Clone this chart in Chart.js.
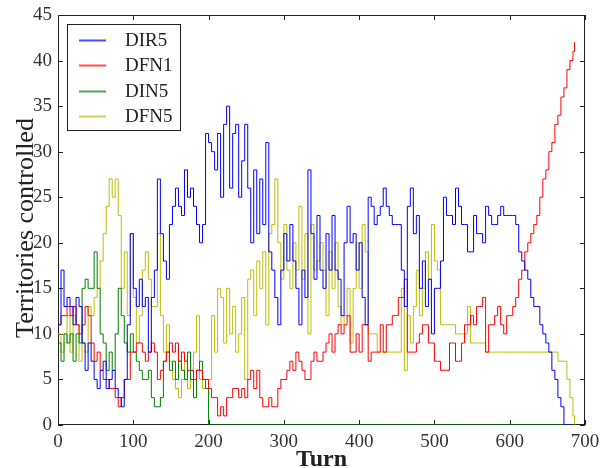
<!DOCTYPE html>
<html>
<head>
<meta charset="utf-8">
<script src="https://cdn.jsdelivr.net/npm/chart.js@4.4.1/dist/chart.umd.min.js"></script>
<style>
body { margin: 0; background: #fff; }
</style>
</head>
<body>
<canvas id="myChart" width="601" height="468"></canvas>
<script>
// turn numbers sampled every 4 turns
var turns = [
  0, 4, 8, 12, 16, 20, 24, 28, 32, 36,
  40, 44, 48, 52, 56, 60, 64, 68, 72, 76,
  80, 84, 88, 92, 96, 100, 104, 108, 112, 116,
  120, 124, 128, 132, 136, 140, 144, 148, 152, 156,
  160, 164, 168, 172, 176, 180, 184, 188, 192, 196,
  200, 204, 208, 212, 216, 220, 224, 228, 232, 236,
  240, 244, 248, 252, 256, 260, 264, 268, 272, 276,
  280, 284, 288, 292, 296, 300, 304, 308, 312, 316,
  320, 324, 328, 332, 336, 340, 344, 348, 352, 356,
  360, 364, 368, 372, 376, 380, 384, 388, 392, 396,
  400, 404, 408, 412, 416, 420, 424, 428, 432, 436,
  440, 444, 448, 452, 456, 460, 464, 468, 472, 476,
  480, 484, 488, 492, 496, 500, 504, 508, 512, 516,
  520, 524, 528, 532, 536, 540, 544, 548, 552, 556,
  560, 564, 568, 572, 576, 580, 584, 588, 592, 596,
  600, 604, 608, 612, 616, 620, 624, 628, 632, 636,
  640, 644, 648, 652, 656, 660, 664, 668, 672, 676,
  680, 684, 686
];

var dir5 = [
  11, 17, 13, 14, 13, 11, 14, 13, 9, 6,
  9, 7, 5, 4, 6, 7, 4, 5, 6, 4,
  3, 2, 5, 11, 21, 15, 13, 16, 13, 14,
  8, 14, 17, 27, 21, 18, 16, 22, 24, 26,
  24, 23, 28, 25, 26, 24, 22, 20, 22, 32,
  31, 30, 28, 32, 25, 33, 35, 26, 32, 33,
  25, 29, 33, 26, 20, 28, 21, 27, 22, 31,
  19, 17, 14, 11, 17, 21, 18, 22, 18, 15,
  11, 17, 14, 28, 21, 16, 23, 17, 15, 21,
  17, 23, 17, 16, 12, 20, 24, 20, 21, 17,
  20, 14, 11, 25, 24, 22, 23, 24, 26, 24,
  23, 22, 22, 22, 17, 13, 24, 26, 21, 23,
  15, 18, 13, 16, 10, 15, 15, 18, 25, 23,
  23, 22, 26, 24, 22, 22, 19, 19, 23, 21,
  21, 20, 24, 23, 22, 22, 23, 24, 23, 23,
  23, 23, 22, 19, 18, 17, 16, 14, 13, 13,
  11, 10, 9, 8, 6, 5, 3, 2, 0, 0,
  0, 0, 0
];

var dfn1 = [
  11, 12, 12, 13, 12, 13, 11, 10, 11, 13,
  12, 9, 7, 8, 6, 5, 5, 4, 4, 3,
  2, 3, 5, 5, 8, 8, 9, 9, 8, 7,
  8, 9, 8, 5, 6, 7, 8, 9, 8, 9,
  7, 8, 7, 6, 6, 5, 6, 6, 5, 5,
  4, 3, 3, 1, 2, 1, 3, 3, 4, 4,
  3, 4, 3, 5, 6, 4, 6, 3, 2, 2,
  3, 2, 2, 4, 5, 5, 6, 7, 6, 8,
  7, 6, 5, 5, 7, 8, 7, 7, 8, 9,
  10, 8, 10, 11, 10, 11, 12, 8, 8, 10,
  8, 11, 11, 7, 8, 8, 8, 11, 8, 11,
  11, 12, 12, 14, 14, 16, 8, 8, 8, 9,
  10, 11, 11, 9, 9, 7, 7, 6, 6, 6,
  9, 9, 7, 7, 9, 11, 11, 12, 11, 13,
  13, 14, 8, 11, 11, 12, 13, 11, 10, 12,
  12, 13, 14, 16, 17, 19, 20, 21, 22, 23,
  25, 27, 28, 30, 31, 33, 34, 36, 37, 39,
  40, 41, 42
];

var din5 = [
  9, 7, 10, 9, 10, 7, 10, 9, 15, 16,
  15, 15, 19, 15, 10, 9, 6, 8, 6, 10,
  15, 12, 9, 8, 10, 8, 7, 6, 5, 5,
  6, 3, 2, 2, 3, 7, 8, 6, 7, 5,
  7, 6, 5, 8, 5, 3, 6, 7, 5, 4,
  0, 0, 0, 0, 0, 0, 0, 0, 0, 0,
  0, 0, 0, 0, 0, 0, 0, 0, 0, 0,
  0, 0, 0, 0, 0, 0, 0, 0, 0, 0,
  0, 0, 0, 0, 0, 0, 0, 0, 0, 0,
  0, 0, 0, 0, 0, 0, 0, 0, 0, 0,
  0, 0, 0, 0, 0, 0, 0, 0, 0, 0,
  0, 0, 0, 0, 0, 0, 0, 0, 0, 0,
  0, 0, 0, 0, 0, 0, 0, 0, 0, 0,
  0, 0, 0, 0, 0, 0, 0, 0, 0, 0,
  0, 0, 0, 0, 0, 0, 0, 0, 0, 0,
  0, 0, 0, 0, 0, 0, 0, 0, 0, 0,
  0, 0, 0, 0, 0, 0, 0, 0, 0, 0,
  0, 0, 0
];

var dfn5 = [
  10, 8, 9, 12, 8, 12, 11, 7, 9, 8,
  13, 12, 14, 15, 18, 21, 24, 27, 25, 27,
  23, 15, 19, 12, 21, 14, 9, 12, 17, 19,
  16, 13, 13, 21, 12, 8, 11, 7, 5, 4,
  3, 5, 7, 4, 6, 8, 12, 5, 4, 4,
  5, 12, 8, 15, 14, 9, 15, 10, 13, 8,
  10, 14, 5, 16, 17, 12, 18, 15, 19, 11,
  21, 22, 27, 20, 16, 22, 17, 15, 20, 17,
  24, 16, 21, 10, 22, 17, 18, 20, 17, 12,
  19, 15, 20, 13, 11, 12, 15, 9, 15, 20,
  15, 22, 19, 10, 10, 10, 8, 8, 8, 8,
  8, 8, 8, 8, 15, 6, 12, 9, 13, 17,
  12, 15, 19, 16, 22, 18, 17, 11, 11, 11,
  11, 11, 10, 10, 10, 10, 13, 9, 9, 9,
  9, 9, 8, 8, 8, 8, 8, 8, 8, 8,
  8, 8, 8, 8, 8, 8, 8, 8, 8, 8,
  8, 8, 8, 8, 8, 8, 7, 7, 7, 5,
  3, 1, 0
];

var xTicks = [0, 100, 200, 300, 400, 500, 600, 700];
var yTicks = [0, 5, 10, 15, 20, 25, 30, 35, 40, 45];

function pts(vals) {
  return turns.map(function (t, i) { return { x: t, y: vals[i] }; });
}

var serif = '"Liberation Serif", "DejaVu Serif", serif';

// frame + inward ticks, like matplotlib
var framePlugin = {
  id: 'frame',
  beforeDatasetsDraw: function (chart) {
    var c = chart.ctx, a = chart.chartArea;
    var xs = chart.scales.x, ys = chart.scales.y;
    c.save();
    c.strokeStyle = '#222';
    c.lineWidth = 1;
    c.strokeRect(a.left + 0.5, a.top + 0.5, a.right - a.left - 1, a.bottom - a.top - 1);
    c.beginPath();
    xTicks.forEach(function (v) {
      var px = Math.round(xs.getPixelForValue(v)) + 0.5;
      c.moveTo(px, a.bottom); c.lineTo(px, a.bottom - 5);
      c.moveTo(px, a.top); c.lineTo(px, a.top + 5);
    });
    yTicks.forEach(function (v) {
      var py = Math.round(ys.getPixelForValue(v)) + 0.5;
      c.moveTo(a.left, py); c.lineTo(a.left + 5, py);
      c.moveTo(a.right, py); c.lineTo(a.right - 5, py);
    });
    c.stroke();
    c.restore();
  },
  afterDraw: function (chart) {
    // axis titles
    var c = chart.ctx, a = chart.chartArea;
    c.save();
    c.fillStyle = '#222';
    c.textAlign = 'center';
    c.textBaseline = 'alphabetic';
    c.font = 'bold 24px ' + serif;
    c.fillText('Turn', (a.left + a.right) / 2, 466);
    c.translate(33, 228);
    c.rotate(-Math.PI / 2);
    c.font = '26px ' + serif;
    c.fillText('Territories controlled', 0, 0);
    c.restore();
  }
};

// legend box in the upper left corner
var legendPlugin = {
  id: 'boxLegend',
  afterDraw: function (chart) {
    var c = chart.ctx;
    c.save();
    c.fillStyle = '#fff';
    c.fillRect(67, 24, 113, 106);
    c.strokeStyle = '#222';
    c.lineWidth = 1;
    c.strokeRect(67.5, 24.5, 113, 106);
    c.font = '19px ' + serif;
    c.textBaseline = 'middle';
    chart.data.datasets.forEach(function (ds, i) {
      var y = 40 + i * 25.3;
      c.strokeStyle = ds.borderColor;
      c.globalAlpha = 0.7;
      c.lineWidth = 2;
      c.beginPath();
      c.moveTo(79, Math.round(y) + 0.5);
      c.lineTo(106, Math.round(y) + 0.5);
      c.stroke();
      c.globalAlpha = 1;
      c.fillStyle = '#222';
      c.fillText(ds.label, 125, y + 1);
    });
    c.restore();
  }
};

window.onload = function () {
  var ctx = document.getElementById('myChart').getContext('2d');

  new Chart(ctx, {
    type: 'line',
    data: {
      datasets: [
        { label: 'DIR5', data: pts(dir5), borderColor: '#0000ff' },
        { label: 'DFN1', data: pts(dfn1), borderColor: '#ff0000' },
        { label: 'DIN5', data: pts(din5), borderColor: '#008000' },
        { label: 'DFN5', data: pts(dfn5), borderColor: '#bfbf00' }
      ]
    },
    options: {
      responsive: false,
      animation: false,
      layout: { padding: { top: 15, right: 16, left: 0, bottom: 0 } },
      elements: {
        point: { radius: 0 },
        line: { borderWidth: 1, tension: 0, fill: false, stepped: true }
      },
      plugins: {
        legend: { display: false },
        tooltip: { enabled: false }
      },
      scales: {
        x: {
          type: 'linear',
          min: 0,
          max: 700,
          afterFit: function (s) { s.height = 43; s.paddingLeft = 0; s.paddingRight = 0; },
          afterBuildTicks: function (s) { s.ticks = xTicks.map(function (v) { return { value: v }; }); },
          grid: { display: false, drawTicks: false },
          border: { display: false },
          ticks: { padding: 6, color: '#333', font: { family: serif, size: 19 } },
          title: { display: false }
        },
        y: {
          min: 0,
          max: 45,
          afterFit: function (s) { s.width = 58; s.paddingTop = 0; s.paddingBottom = 0; },
          afterBuildTicks: function (s) { s.ticks = yTicks.map(function (v) { return { value: v }; }); },
          grid: { display: false, drawTicks: false },
          border: { display: false },
          ticks: { padding: 6, color: '#333', font: { family: serif, size: 19 } },
          title: { display: false }
        }
      }
    },
    plugins: [framePlugin, legendPlugin]
  });
};
</script>
</body>
</html>
